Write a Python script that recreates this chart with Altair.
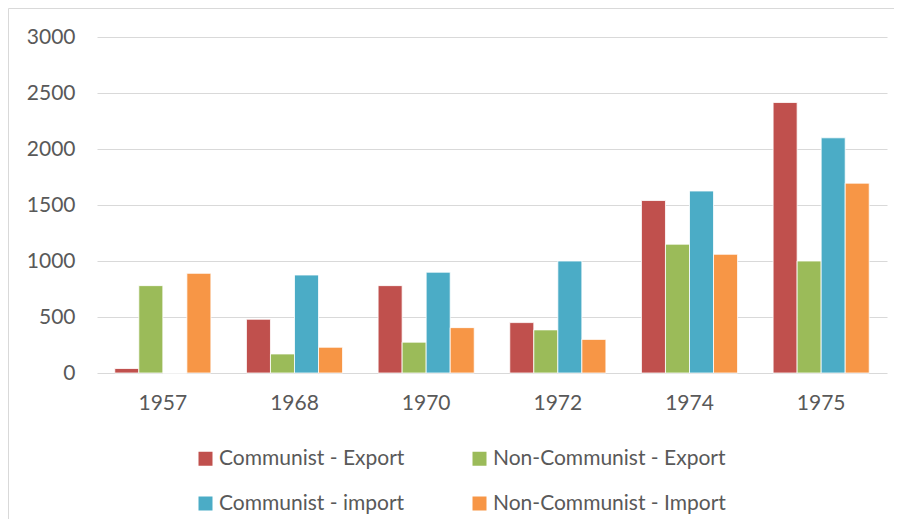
import altair as alt
import pandas as pd

years = ["1957", "1968", "1970", "1972", "1974", "1975"]
series = ["Communist - Export", "Non-Communist - Export", "Communist - import", "Non-Communist - Import"]
comm_export = [40, 480, 780, 450, 1540, 2415]
noncomm_export = [780, 170, 275, 385, 1150, 1000]
comm_import = [0, 875, 900, 1000, 1625, 2100]
noncomm_import = [890, 230, 405, 300, 1060, 1695]
colors = ["#C0504D", "#9BBB59", "#4BACC6", "#F79646"]
y_ticks = [0, 500, 1000, 1500, 2000, 2500, 3000]

rows = []
for s, vals in zip(series, [comm_export, noncomm_export, comm_import, noncomm_import]):
    for yr, v in zip(years, vals):
        rows.append({"year": yr, "series": s, "value": v})
df = pd.DataFrame(rows)

FONT = "Lato"
FS = 21

bars = alt.Chart(df).mark_bar(stroke="white", strokeWidth=0.8).encode(
    x=alt.X("year:N", sort=years, title=None,
            scale=alt.Scale(paddingInner=0.27, paddingOuter=0.135),
            axis=alt.Axis(labelAngle=0, labelPadding=19, grid=False)),
    xOffset=alt.XOffset("series:N", sort=series,
                        scale=alt.Scale(paddingInner=0, paddingOuter=0)),
    y=alt.Y("value:Q", title=None,
            scale=alt.Scale(domain=[0, 3000], nice=False),
            axis=alt.Axis(values=y_ticks, format="d", labelPadding=22, grid=True)),
    color=alt.Color("series:N", sort=series,
                    scale=alt.Scale(domain=series, range=colors),
                    legend=alt.Legend(title=None, orient="none", legendX=98, legendY=411,
                                      direction="horizontal", columns=2,
                                      symbolType="square", symbolSize=196,
                                      symbolStrokeWidth=0, columnPadding=64, rowPadding=23,
                                      labelFontSize=FS, labelColor="#595959", labelFont=FONT,
                                      labelOffset=3, labelLimit=400)),
)

frame = alt.Chart(pd.DataFrame({"a": [0]})).mark_rect(
    fill=None, stroke="#d9d9d9", strokeWidth=1
).encode(
    x=alt.value(-88.5), x2=alt.value(900), y=alt.value(-28.5), y2=alt.value(700)
)

chart = alt.layer(frame, bars).properties(
    width=790, height=336,
    background="white",
    autosize=alt.AutoSizeParams(type="none"),
    padding={"left": 89, "top": 29, "right": 7, "bottom": 146},
).configure_view(stroke=None).configure_axis(
    domain=False, ticks=False, gridColor="#d9d9d9", gridWidth=1.2,
    labelFont=FONT, labelFontSize=FS, labelColor="#595959",
)

chart.save("out.html", embed_options={"renderer": "svg", "actions": False})
